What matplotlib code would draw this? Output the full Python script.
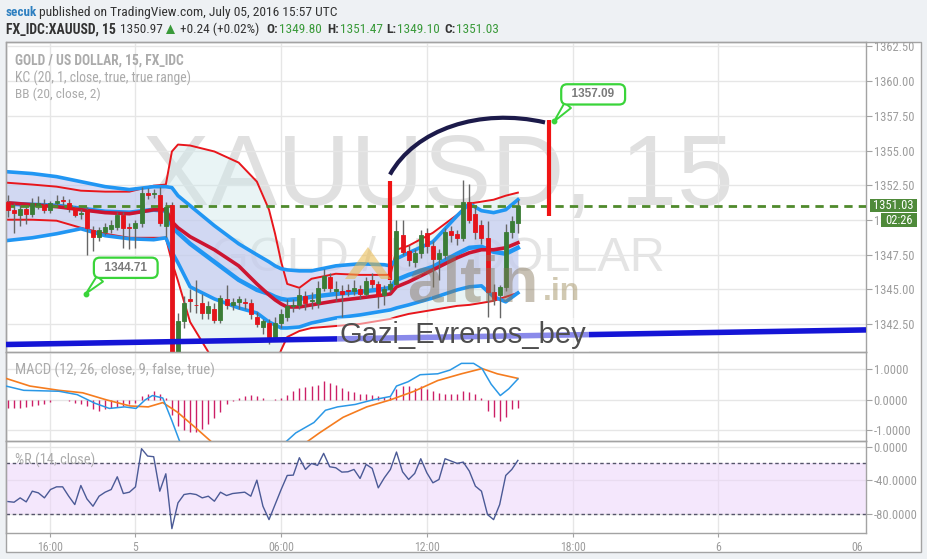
import numpy as np
import matplotlib
matplotlib.use("Agg")
import matplotlib.pyplot as plt
from matplotlib.patches import Rectangle, PathPatch, Polygon
from matplotlib.path import Path
from matplotlib.ticker import FixedLocator, FixedFormatter
from matplotlib.transforms import Bbox, TransformedBbox

W, H = 927, 559

# ---------------- data: XAUUSD 15-minute bars ----------------
opens = [1351.30, 1350.72, 1350.36, 1350.77, 1350.41, 1351.10, 1351.08, 1350.72, 1351.20, 1351.40,
         1351.20, 1350.84, 1350.40, 1350.70, 1349.28, 1348.80, 1349.16, 1349.33, 1349.52, 1350.36,
         1349.50, 1349.40, 1349.76, 1351.92, 1351.85, 1351.80, 1349.60, 1351.10, 1340.20, 1342.70,
         1344.30, 1343.90, 1344.00, 1343.30, 1343.60, 1342.80, 1344.30, 1343.85, 1344.10, 1344.10,
         1344.00, 1343.00, 1342.30, 1342.60, 1341.60, 1342.60, 1343.00, 1343.80, 1343.90, 1344.55,
         1344.20, 1344.00, 1345.10, 1345.90, 1344.90, 1344.90, 1344.95, 1344.90, 1345.00, 1344.70,
         1345.70, 1345.40, 1344.60, 1345.00, 1345.40, 1348.90, 1347.80, 1347.00, 1347.65, 1349.10,
         1348.13, 1347.20, 1347.50, 1349.20, 1349.00, 1348.70, 1351.27, 1350.40, 1349.64, 1348.68,
         1344.84, 1344.60, 1345.20, 1349.16, 1349.80]
highs = [1351.80, 1351.20, 1351.10, 1351.00, 1351.60, 1351.70, 1351.50, 1351.40, 1351.80, 1351.70,
         1351.50, 1351.00, 1350.80, 1350.90, 1349.60, 1349.50, 1349.80, 1350.00, 1350.60, 1350.60,
         1349.80, 1350.00, 1352.40, 1352.30, 1352.20, 1352.40, 1351.30, 1351.30, 1343.30, 1344.50,
         1345.00, 1345.70, 1344.70, 1344.20, 1344.00, 1344.60, 1345.30, 1344.40, 1344.50, 1344.40,
         1344.30, 1343.40, 1342.90, 1342.90, 1343.00, 1343.60, 1344.30, 1344.30, 1345.10, 1344.90,
         1344.80, 1345.60, 1346.50, 1346.20, 1345.60, 1345.30, 1345.40, 1345.70, 1345.30, 1345.90,
         1346.20, 1345.60, 1345.30, 1345.70, 1350.00, 1350.00, 1348.20, 1347.90, 1349.30, 1349.40,
         1348.50, 1347.90, 1349.40, 1349.60, 1349.30, 1352.90, 1352.60, 1351.00, 1350.00, 1349.90,
         1345.40, 1345.30, 1349.70, 1350.30, 1351.47]
lows = [1350.20, 1349.10, 1349.60, 1349.70, 1350.20, 1350.80, 1350.50, 1350.50, 1351.00, 1351.10,
        1350.60, 1350.20, 1350.10, 1347.50, 1347.80, 1348.50, 1348.90, 1349.10, 1349.30, 1348.00,
        1347.90, 1348.00, 1349.50, 1351.50, 1351.60, 1349.60, 1348.80, 1339.00, 1339.50, 1342.20,
        1343.40, 1343.30, 1342.90, 1342.90, 1342.60, 1342.60, 1343.60, 1343.50, 1343.60, 1343.60,
        1342.90, 1342.30, 1341.80, 1341.10, 1341.30, 1342.20, 1342.70, 1343.40, 1343.60, 1343.50,
        1343.60, 1343.70, 1344.90, 1344.80, 1344.20, 1343.00, 1344.50, 1344.60, 1344.30, 1344.50,
        1345.10, 1343.70, 1343.90, 1344.80, 1345.30, 1347.50, 1346.70, 1346.60, 1347.30, 1347.60,
        1345.20, 1345.70, 1347.20, 1348.40, 1348.20, 1348.50, 1349.80, 1348.60, 1348.30, 1343.00,
        1343.90, 1342.95, 1344.90, 1348.70, 1349.10]
closes = [1350.70, 1350.48, 1350.77, 1350.41, 1351.20, 1351.20, 1350.72, 1351.20, 1351.40, 1351.35,
          1350.77, 1350.36, 1350.50, 1349.40, 1348.76, 1349.30, 1349.47, 1349.64, 1350.36, 1349.40,
          1349.45, 1349.76, 1351.92, 1351.80, 1351.90, 1349.76, 1350.90, 1340.00, 1342.70, 1344.05,
          1344.20, 1343.85, 1343.30, 1343.80, 1342.80, 1344.40, 1343.90, 1344.10, 1344.35, 1344.00,
          1343.20, 1342.50, 1342.70, 1341.60, 1342.60, 1343.20, 1343.80, 1343.90, 1344.60, 1344.05,
          1344.25, 1345.10, 1346.00, 1345.10, 1345.00, 1344.70, 1344.90, 1345.10, 1344.70, 1345.60,
          1345.40, 1344.50, 1345.00, 1345.40, 1349.20, 1347.70, 1347.10, 1347.65, 1348.92, 1348.10,
          1347.17, 1347.65, 1349.16, 1348.90, 1348.70, 1351.27, 1350.00, 1349.16, 1348.68, 1344.84,
          1344.32, 1345.20, 1349.16, 1349.93, 1351.03]

# Keltner channel (20, 1, true range) and Bollinger bands (20, 2), sampled on these bars
band_bars = [-0.4, 4, 8, 12, 16, 20, 24, 26, 27, 28, 30, 34, 38, 41, 43, 44, 45, 46, 48, 50,
             54, 58, 62, 63, 64, 66, 70, 74, 76, 78, 80, 82, 84]
bb_upper = [1353.48, 1353.34, 1353.12, 1352.76, 1352.40, 1352.19, 1352.40, 1352.40, 1352.33, 1351.75,
            1351.03, 1349.59, 1348.29, 1347.50, 1346.99, 1346.70, 1346.49, 1346.41, 1346.34, 1346.34,
            1346.70, 1346.85, 1346.78, 1346.70, 1347.21, 1347.64, 1348.43, 1350.31, 1351.18, 1350.67,
            1350.53, 1350.74, 1351.46]
bb_basis = [1351.18, 1351.10, 1351.03, 1350.82, 1350.60, 1350.53, 1350.74, 1350.67, 1349.59, 1349.08,
            1348.29, 1346.99, 1345.69, 1344.97, 1344.68, 1344.47, 1344.32, 1344.25, 1344.32, 1344.47,
            1344.68, 1344.83, 1345.04, 1345.12, 1345.69, 1346.05, 1346.63, 1347.57, 1348.00, 1348.07,
            1347.71, 1347.57, 1348.00]
bb_lower = [1348.51, 1348.72, 1349.01, 1349.37, 1348.87, 1348.65, 1348.58, 1348.72, 1347.71, 1346.92,
            1345.19, 1344.32, 1343.67, 1343.31, 1342.66, 1342.45, 1342.23, 1342.23, 1342.30, 1342.59,
            1342.95, 1343.17, 1343.46, 1343.53, 1343.67, 1343.89, 1344.39, 1344.97, 1345.19, 1345.26,
            1344.47, 1344.11, 1344.75]
kc_upper = [1352.69, 1352.55, 1352.40, 1352.11, 1352.04, 1352.04, 1352.47, 1352.55, 1354.93, 1355.43,
            1355.36, 1354.93, 1354.13, 1352.76, 1350.74, 1349.01, 1346.99, 1345.40, 1345.12, 1345.77,
            1346.13, 1346.05, 1346.05, 1346.05, 1347.86, 1348.15, 1349.08, 1350.38, 1351.18, 1351.32,
            1351.46, 1351.75, 1351.97]
kc_basis = [1351.25, 1351.10, 1350.96, 1350.74, 1350.53, 1350.45, 1350.74, 1350.74, 1349.88, 1349.44,
            1348.80, 1347.86, 1346.70, 1345.40, 1344.61, 1344.25, 1343.96, 1343.74, 1343.74, 1343.89,
            1344.18, 1344.39, 1344.61, 1344.68, 1345.19, 1345.55, 1346.41, 1347.28, 1347.64, 1347.86,
            1347.86, 1348.00, 1348.36]
kc_lower = [1350.02, 1350.02, 1349.95, 1349.44, 1349.01, 1348.72, 1348.72, 1348.72, 1346.99, 1345.62,
            1342.66, 1339.78, 1338.84, 1338.12, 1338.62, 1339.49, 1340.64, 1341.58, 1342.01, 1342.23,
            1342.37, 1342.52, 1342.81, 1342.88, 1343.02, 1343.24, 1343.53, 1343.82, 1343.89, 1344.03,
            1344.18, 1344.47, 1344.75]

# MACD (12, 26, 9)
macd_bars = [-0.34, 2.6, 8.4, 11.4, 14.3, 16.7, 19.2, 21.1, 22.6, 23.8, 25.5, 27.0, 28.4, 30, 33,
             36, 40, 44, 45.5, 47.4, 50.4, 52.3, 54.3, 57.2, 60.1, 63.0, 64.0, 65.9, 67.9, 70.8,
             72.8, 74.7, 76.7, 78.1, 79.6, 81.1, 82.5, 84.0]
macd_line = [0.45, 0.31, 0.28, 0.17, -0.11, -0.28, -0.23, -0.28, 0.00, 0.14, 0.06, -0.68, -1.42, -2.00, -2.40,
             -2.30, -2.00, -1.70, -1.42, -1.08, -0.74, -0.34, -0.23, -0.15, 0.00, 0.11, 0.45, 0.59, 0.82, 0.85,
             0.97, 1.19, 1.19, 1.02, 0.51, 0.14, 0.36, 0.68]
signal_bars = [-0.34, 3.6, 8.4, 12.3, 16.2, 20.1, 23.1, 25.5, 27.9, 30.9, 33.8, 37, 40, 44, 48,
               48.9, 51.3, 55.2, 59.1, 63.0, 66.9, 70.8, 74.7, 78.1, 80.6, 84.0]
signal_line = [0.70, 0.45, 0.31, 0.23, 0.00, -0.20, -0.23, -0.09, -0.40, -0.91, -1.42, -1.70, -1.80, -1.70, -1.50,
               -1.42, -1.08, -0.57, -0.23, 0.00, 0.28, 0.63, 0.85, 1.02, 0.85, 0.70]
macd_hist = [-0.28, -0.28, -0.26, -0.24, -0.20, -0.17, -0.12, -0.06, -0.02, 0.00,
             -0.05, -0.10, -0.14, -0.20, -0.30, -0.35, -0.30, -0.25, -0.22, -0.20,
             -0.15, -0.10, 0.12, 0.20, 0.28, 0.18, 0.05, -0.50, -0.85, -1.00,
             -1.05, -1.05, -0.95, -0.80, -0.60, -0.40, -0.15, -0.05, 0.05, 0.12,
             0.15, 0.12, 0.05, 0.00, 0.03, 0.05, 0.15, 0.30, 0.40, 0.42,
             0.45, 0.50, 0.60, 0.55, 0.48, 0.40, 0.30, 0.25, 0.20, 0.20,
             0.15, 0.12, 0.10, 0.10, 0.35, 0.45, 0.45, 0.40, 0.45, 0.35,
             0.28, 0.22, 0.20, 0.20, 0.20, 0.28, 0.25, 0.18, 0.05, -0.35,
             -0.55, -0.70, -0.55, -0.30, -0.25]

# Williams %R (14)
pct_r = [-65.6, -66.4, -61.2, -66.0, -53.2, -55.2, -61.2, -51.2, -48.0, -48.0,
         -59.2, -69.2, -46.4, -62.4, -71.2, -59.2, -54.4, -51.2, -36.0, -56.0,
         -54.4, -48.0, -2.4, -11.2, -12.0, -53.2, -32.4, -98.0, -67.2, -57.2,
         -56.0, -57.2, -61.2, -59.2, -65.2, -54.4, -58.4, -56.0, -55.2, -54.4,
         -59.2, -40.0, -71.2, -87.2, -69.2, -51.2, -34.4, -34.0, -13.2, -27.2,
         -20.0, -22.4, -8.0, -24.0, -25.2, -30.4, -30.0, -27.2, -38.0, -21.2,
         -26.0, -49.2, -37.2, -27.2, -6.4, -30.0, -39.2, -32.0, -14.4, -31.2,
         -43.2, -39.2, -14.4, -17.2, -20.0, -18.4, -29.2, -47.2, -53.2, -81.2,
         -87.2, -69.2, -34.4, -27.2, -16.4]

# axis ticks
time_ticks = [7, 21, 45, 69, 93, 117]
time_labels = ["16:00", "5", "06:00", "12:00", "18:00", "6"]
edge_tick, edge_label = 139.9, "06"
price_ticks = [1342.5, 1345.0, 1347.5, 1350.0, 1352.5, 1355.0, 1357.5, 1360.0, 1362.5]
macd_ticks = [-1.0, 0.0, 1.0]
r_ticks = [-80.0, -40.0, 0.0]

# drawings on the chart
trend_bars, trend_prices = [-0.33, 141.35], [1341.04, 1342.09]
vline1_bar, vline1_prices = 62.9, (1345.69, 1352.84)
vline2_bar, vline2_prices = 89.1, (1350.31, 1357.20)
arc_bars = [62.93, 67.05, 77.76, 88.47]
arc_prices = [1353.27, 1356.52, 1358.10, 1357.02]
notes = [(1357.09, 89.95, 96.4, 1359.04), (1344.71, 12.85, 19.4, 1346.56)]
last_price = 1351.03

# ---------------- figure ----------------
SANS = ["Liberation Sans", "DejaVu Sans"]
NARROW = ["Roboto Condensed", "Liberation Sans Narrow", "Liberation Sans", "DejaVu Sans"]
plt.rcParams["font.family"] = SANS

fig = plt.figure(figsize=(W / 100, H / 100), dpi=100)
fig.patch.set_facecolor("#eef1f4")
renderer = fig.canvas.get_renderer()


def fx(px):
    return px / W


def fy(py):
    return 1 - py / H


def put(x, y, s, width=None, **kw):
    """Place a text at pixel (x, y); optionally scale its size to span `width` pixels."""
    t = fig.text(fx(x), fy(y), s, **kw)
    if width:
        w = t.get_window_extent(renderer).width
        t.set_fontsize(t.get_fontsize() * width / w)
    return t


LEFT, RIGHT, OUTER_RIGHT = 6, 866, 921
TOP, MAIN_BOT, MACD_BOT, R_BOT, FRAME_BOT = 42, 352, 441, 533, 552
XMIN, XMAX = -0.33, 141.35
GRID = "#e6e6e6"
AXC = "#a3a3a3"
LABC = "#9d9d9d"

fig.add_artist(Rectangle((fx(LEFT), fy(FRAME_BOT)), fx(OUTER_RIGHT) - fx(LEFT), fy(TOP) - fy(FRAME_BOT),
                         transform=fig.transFigure, facecolor="white", edgecolor=AXC, lw=1.0, zorder=-5))
frame_clip = TransformedBbox(Bbox([[fx(LEFT), fy(FRAME_BOT)], [fx(OUTER_RIGHT), fy(TOP)]]), fig.transFigure)


def pane(top, bottom, ticks, fmt):
    a = fig.add_axes([fx(LEFT), fy(bottom), fx(RIGHT) - fx(LEFT), fy(top) - fy(bottom)])
    a.set_facecolor("none")
    for s in a.spines.values():
        s.set_color(AXC)
        s.set_linewidth(1.0)
    a.set_xlim(XMIN, XMAX)
    a.yaxis.tick_right()
    a.set_yticks(ticks)
    a.set_yticklabels([fmt % t for t in ticks])
    a.tick_params(axis="y", length=4, width=0.8, color=AXC, labelcolor=LABC, labelsize=8, pad=1.5)
    for lbl in a.get_yticklabels():
        lbl.set_family(NARROW)
        lbl.set_fontsize(9)
        lbl.set_clip_box(frame_clip)
        lbl.set_clip_on(True)
    a.set_xticks(time_ticks)
    a.tick_params(axis="x", length=0, labelbottom=False)
    a.grid(True, color=GRID, lw=1.0)
    a.set_axisbelow(True)
    return a


ax = pane(TOP, MAIN_BOT, price_ticks, "%.2f")
ax.set_ylim(1340.50, 1362.81)
axm = pane(MAIN_BOT, MACD_BOT, macd_ticks, "%.4f")
axm.set_ylim(-1.343, 1.561)
axr = pane(MACD_BOT, R_BOT, r_ticks, "%.4f")
axr.set_ylim(-103.2, 6.8)

# time axis under the last pane
axr.tick_params(axis="x", length=3, width=0.8, color=AXC, labelbottom=True, labelcolor=LABC,
                labelsize=8.5, pad=3)
axr.set_xticklabels(time_labels, family=NARROW)
axr.xaxis.set_minor_locator(FixedLocator([edge_tick]))
axr.xaxis.set_minor_formatter(FixedFormatter([edge_label]))
axr.tick_params(axis="x", which="minor", length=0, labelcolor=LABC, labelsize=8.5, pad=6)
for lbl in axr.get_xticklabels(minor=True):
    lbl.set_family(NARROW)

# ---------------- watermark ----------------
ax.text(fx(438), fy(205), "XAUUSD, 15", transform=fig.transFigure, ha="center", va="baseline",
        fontsize=73, color="#e0e0e0", zorder=0.5)
ax.text(fx(438), fy(271), "GOLD / US DOLLAR", transform=fig.transFigure, ha="center", va="baseline",
        fontsize=35, color="#e4e4e4", zorder=0.5)

# ---------------- bands ----------------
ax.fill_between(band_bars, kc_lower, kc_upper, color="#cfe8ea", alpha=0.45, lw=0, zorder=1)
ax.fill_between(band_bars, bb_lower, bb_upper, color="#bfc2f0", alpha=0.55, lw=0, zorder=1.1)
ax.plot(band_bars, kc_upper, color="#e8161c", lw=1.4, zorder=2)
ax.plot(band_bars, kc_lower, color="#e8161c", lw=1.4, zorder=2)
ax.plot(band_bars, bb_upper, color="#2196f3", lw=2.6, zorder=2.2, solid_joinstyle="round")
ax.plot(band_bars, bb_lower, color="#2196f3", lw=2.6, zorder=2.2, solid_joinstyle="round")
ax.plot(band_bars, bb_basis, color="#2196f3", lw=3.2, zorder=2.2, solid_joinstyle="round")
ax.plot(band_bars, kc_basis, color="#cc1531", lw=2.6, zorder=2.3, solid_joinstyle="round")

# ---------------- candles ----------------
o = np.array(opens)
c = np.array(closes)
idx = np.arange(len(c))
col = np.where(c >= o, "#3b7d36", "#e5141b")
ax.vlines(idx, lows, highs, color="#666666", lw=1.0, zorder=4)
body_lo = np.minimum(o, c)
body_h = np.maximum(np.abs(c - o), 0.06)
ax.bar(idx, body_h, bottom=body_lo, width=0.66, color=col, edgecolor=col, lw=0.6, zorder=5)

# last price line
ax.axhline(last_price, color="#4f8a2c", lw=2.0, ls=(0, (3, 2.2)), zorder=4.5)

# ---------------- drawings ----------------
ax.plot(trend_bars, trend_prices, color="#1515d6", lw=4, zorder=6, solid_capstyle="butt")
ax.vlines([vline1_bar], *vline1_prices, color="#f01414", lw=3, zorder=6)
ax.vlines([vline2_bar], *vline2_prices, color="#f01414", lw=3, zorder=6)
arc_path = Path(list(zip(arc_bars, arc_prices)), [Path.MOVETO, Path.CURVE4, Path.CURVE4, Path.CURVE4])
ax.add_patch(PathPatch(arc_path, fc="none", ec="#1c1a4a", lw=3, zorder=6))

for value, bx, tx, ty in notes:
    ax.annotate("  %.2f  " % value, xy=(bx, value), xytext=(tx, ty), ha="center", va="center",
                fontsize=8.5, fontweight="bold", color="#7a7a7a", zorder=9,
                bbox=dict(boxstyle="round,pad=0.35,rounding_size=0.5", fc="white", ec="#3ad43a", lw=1.6),
                arrowprops=dict(arrowstyle="wedge,tail_width=0.7,shrink_factor=0.5", fc="white",
                                ec="#3ad43a", lw=1.4, relpos=(0.12, 0.0), shrinkA=0, shrinkB=0))
    ax.plot(bx, value, "o", ms=3.2, color="#3ad43a", zorder=9)

# signature and site logo
ax.text(fx(463), fy(343), "Gazi_Evrenos_bey", transform=fig.transFigure, ha="center", va="baseline",
        fontsize=21, color="#4e4e4e", zorder=7,
        bbox=dict(boxstyle="square,pad=0.1", fc="white", ec="none", alpha=0.5))
fig.add_artist(Polygon([(fx(345), fy(279)), (fx(368), fy(247)), (fx(391), fy(279)), (fx(381), fy(279)),
                        (fx(368), fy(262)), (fx(355), fy(279))], closed=True, transform=fig.transFigure,
                       fc="#e8b848", ec="none", alpha=0.55, zorder=8))
ax.text(fx(407), fy(301), "altin", transform=fig.transFigure, ha="left", va="baseline", fontsize=46,
        fontweight="bold", color="#857659", alpha=0.45, zorder=8)
ax.text(fx(543), fy(300), ".in", transform=fig.transFigure, ha="left", va="baseline", fontsize=23,
        fontweight="bold", color="#a59466", alpha=0.5, zorder=8)

# ---------------- MACD ----------------
axm.vlines(idx, 0, macd_hist, color="#cc1f66", lw=1.0, zorder=3)
axm.plot(signal_bars, signal_line, color="#f57c1f", lw=1.2, zorder=4)
axm.plot(macd_bars, macd_line, color="#2b98e6", lw=1.1, zorder=5)

# ---------------- Williams %R ----------------
axr.axhspan(-80, -20, color="#ecd4fa", alpha=0.55, lw=0, zorder=1)
axr.axhline(-20, color="#55556a", lw=1.0, ls=(0, (2.5, 2)), zorder=2)
axr.axhline(-80, color="#55556a", lw=1.0, ls=(0, (2.5, 2)), zorder=2)
axr.plot(idx, pct_r, color="#4b5a96", lw=1.0, zorder=4)

# ---------------- pane titles ----------------
TT = dict(color="#ababab", fontsize=10, va="center", ha="left", family=NARROW)
put(15, 61, "GOLD / US DOLLAR, 15, FX_IDC", width=169, fontweight="bold", **TT)
put(15, 78, "KC (20, 1, close, true, true range)", width=175, **TT)
put(15, 94, "BB (20, close, 2)", width=85, **TT)
put(15, 370, "MACD (12, 26, close, 9, false, true)", width=198, **TT)
put(15, 460, "%R (14, close)", width=80, **TT)

# ---------------- last price tags ----------------
fig.add_artist(Rectangle((fx(870), fy(212)), fx(917) - fx(870), fy(198.5) - fy(212), transform=fig.transFigure,
                         fc="#4f8a3a", ec="none", zorder=10))
fig.add_artist(Rectangle((fx(881), fy(227)), fx(917) - fx(881), fy(213) - fy(227), transform=fig.transFigure,
                         fc="#4f8a3a", ec="none", zorder=10))
fig.text(fx(893.5), fy(205.5), "%.2f" % last_price, color="white", fontsize=9, ha="center", va="center",
         family=NARROW, zorder=11)
fig.text(fx(899), fy(220), "02:26", color="white", fontsize=9, ha="center", va="center", family=NARROW, zorder=11)

# ---------------- header ----------------
HD = dict(fontsize=11, va="center", ha="left", color="#333333", family=NARROW)
GREEN = "#3a9a3a"
put(6, 12.5, "secuk", width=31, fontweight="bold", **{**HD, "color": "#2d7fc0"})
put(39, 12.5, "published on TradingView.com, July 05, 2016 15:57 UTC", width=298, **HD)
put(6, 29.5, "FX_IDC:XAUUSD, 15", width=110, fontweight="bold", **HD)
quote_size = put(120, 29.5, "1350.97", width=43, **HD).get_fontsize()
fig.add_artist(Polygon([(fx(166), fy(34)), (fx(170.5), fy(24.5)), (fx(175), fy(34))], closed=True,
                       transform=fig.transFigure, fc=GREEN, ec="none"))
HQ = {**HD, "fontsize": quote_size}
put(180, 29.5, "+0.24 (+0.02%)", **HQ)
for lab, lx, val, vx in [("O:", 266, "1349.80", 279), ("H:", 327, "1351.47", 340),
                         ("L:", 386, "1349.10", 397), ("C:", 444, "1351.03", 456)]:
    put(lx, 29.5, lab, fontweight="bold", **HQ)
    put(vx, 29.5, val, **{**HQ, "color": GREEN})

fig.savefig("out.png", dpi=100, facecolor=fig.get_facecolor())
